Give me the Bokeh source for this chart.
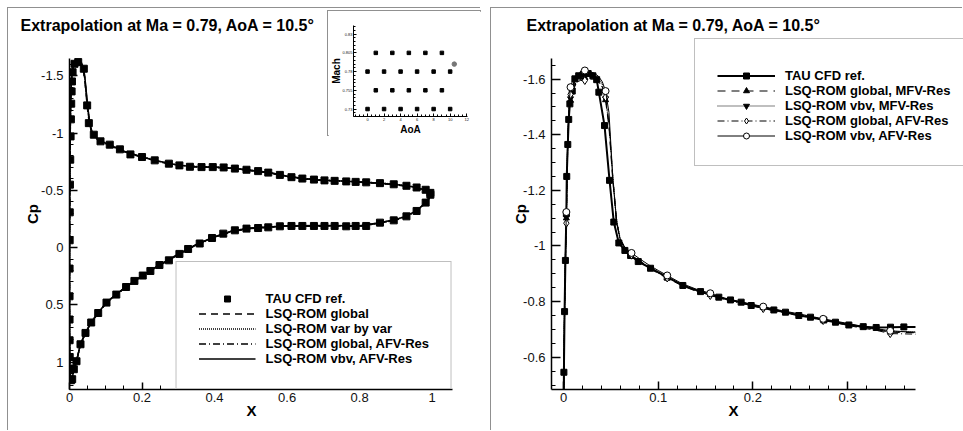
from bokeh.plotting import figure
from bokeh.models import (Range1d, SingleIntervalTicker, FixedTicker, CustomJSTickFormatter,
                          Legend, LegendItem, GridBox, Title)
from bokeh.embed import file_html
from bokeh.resources import INLINE

FONT = "Liberation Sans"
GRAY = "#808080"
TITLE = "Extrapolation at Ma = 0.79, AoA = 10.5°"

# ---------------- LEFT PANEL DATA (full airfoil) ----------------
left_ref_up_x = [0.0040, 0.0012, 0.0006, 0.0003, 0.0001, 0.0001, 0.0002, 0.0004, 0.0007, 0.0012,
                 0.0020, 0.0030, 0.0038, 0.0047, 0.0058, 0.0068, 0.0085, 0.0138, 0.0240, 0.0395,
                 0.0487, 0.0533, 0.0670, 0.0855, 0.111, 0.139, 0.168, 0.200, 0.235, 0.274,
                 0.303, 0.332, 0.364, 0.395, 0.425, 0.456, 0.488, 0.520, 0.548, 0.580,
                 0.612, 0.642, 0.674, 0.703, 0.731, 0.763, 0.789, 0.818, 0.856, 0.894,
                 0.929, 0.957, 0.982, 0.995]
left_ref_up_cp = [1.158, 1.056, 0.955, 0.809, 0.628, 0.425, 0.183, -0.064, -0.308, -0.550,
                  -0.768, -0.971, -1.120, -1.257, -1.364, -1.451, -1.532, -1.605, -1.620, -1.562,
                  -1.242, -1.087, -0.986, -0.928, -0.899, -0.858, -0.814, -0.791, -0.762, -0.733,
                  -0.718, -0.706, -0.703, -0.703, -0.700, -0.690, -0.680, -0.668, -0.655, -0.635,
                  -0.615, -0.603, -0.594, -0.587, -0.583, -0.578, -0.574, -0.570, -0.563, -0.553,
                  -0.540, -0.525, -0.505, -0.478]
left_ref_lo_x = [0.0074, 0.0119, 0.0193, 0.0303, 0.0441, 0.0598, 0.0791, 0.102, 0.129, 0.156,
                 0.179, 0.202, 0.223, 0.248, 0.274, 0.303, 0.327, 0.359, 0.393, 0.424,
                 0.456, 0.488, 0.520, 0.548, 0.580, 0.612, 0.642, 0.674, 0.703, 0.731,
                 0.763, 0.789, 0.818, 0.856, 0.894, 0.929, 0.957, 0.982, 0.995]
left_ref_lo_cp = [1.149, 1.062, 0.992, 0.844, 0.745, 0.654, 0.571, 0.480, 0.410, 0.344,
                  0.291, 0.244, 0.204, 0.152, 0.111, 0.055, 0.012, -0.036, -0.084, -0.122,
                  -0.151, -0.166, -0.171, -0.177, -0.186, -0.189, -0.189, -0.189, -0.189, -0.189,
                  -0.186, -0.189, -0.189, -0.218, -0.238, -0.273, -0.320, -0.393, -0.462]

# ROM line path: upper surface TE -> LE, then lower surface LE -> TE
left_path_x = [1.0, 0.98, 0.95, 0.9, 0.85, 0.8, 0.75, 0.7, 0.65, 0.6,
               0.55, 0.5, 0.45, 0.4, 0.35, 0.3, 0.25, 0.2, 0.15, 0.12,
               0.1, 0.085, 0.07, 0.062, 0.056, 0.051, 0.046, 0.042, 0.038, 0.033,
               0.027, 0.021, 0.015, 0.01, 0.007, 0.005, 0.0035, 0.002, 0.001, 0.0004,
               0.0001, 0.0, 0.0002, 0.001, 0.003, 0.005,
               0.0074, 0.0119, 0.0193, 0.0303, 0.0441, 0.0598, 0.0791, 0.102, 0.129, 0.156,
               0.202, 0.25, 0.3, 0.35, 0.4, 0.45, 0.5, 0.55, 0.6, 0.7,
               0.8, 0.85, 0.9, 0.93, 0.96, 0.98, 1.0]
left_rom_global = [-0.465, -0.502, -0.528, -0.551, -0.563, -0.572, -0.580, -0.588, -0.600, -0.622,
                   -0.655, -0.674, -0.692, -0.702, -0.706, -0.718, -0.750, -0.790, -0.840, -0.883,
                   -0.910, -0.930, -0.962, -1.000, -1.060, -1.170, -1.330, -1.470, -1.555, -1.600,
                   -1.615, -1.618, -1.605, -1.575, -1.520, -1.450, -1.300, -1.000, -0.700, -0.300,
                   0.100, 0.450, 0.800, 1.020, 1.130, 1.170,
                   1.149, 1.062, 0.992, 0.844, 0.745, 0.654, 0.571, 0.480, 0.410, 0.344,
                   0.244, 0.150, 0.060, -0.025, -0.092, -0.145, -0.168, -0.178, -0.188, -0.189,
                   -0.188, -0.212, -0.242, -0.274, -0.327, -0.385, -0.465]
left_rom_vbv = [-0.468, -0.504, -0.530, -0.553, -0.565, -0.574, -0.582, -0.590, -0.602, -0.625,
                -0.657, -0.676, -0.694, -0.704, -0.708, -0.720, -0.752, -0.792, -0.842, -0.885,
                -0.912, -0.933, -0.966, -1.010, -1.080, -1.200, -1.360, -1.490, -1.565, -1.605,
                -1.620, -1.622, -1.608, -1.578, -1.522, -1.452, -1.302, -1.002, -0.702, -0.302,
                0.098, 0.448, 0.798, 1.018, 1.128, 1.168,
                1.147, 1.060, 0.990, 0.842, 0.743, 0.652, 0.569, 0.478, 0.408, 0.342,
                0.242, 0.148, 0.058, -0.027, -0.094, -0.147, -0.170, -0.180, -0.190, -0.191,
                -0.190, -0.214, -0.244, -0.276, -0.329, -0.387, -0.468]
left_rom_global_afv = [-0.462, -0.500, -0.526, -0.549, -0.561, -0.570, -0.578, -0.586, -0.598, -0.620,
                       -0.653, -0.672, -0.690, -0.700, -0.704, -0.716, -0.748, -0.788, -0.838, -0.880,
                       -0.907, -0.927, -0.958, -0.995, -1.070, -1.190, -1.350, -1.480, -1.545, -1.590,
                       -1.600, -1.602, -1.595, -1.560, -1.505, -1.440, -1.290, -0.990, -0.690, -0.290,
                       0.110, 0.455, 0.805, 1.022, 1.132, 1.172,
                       1.151, 1.064, 0.994, 0.846, 0.747, 0.656, 0.573, 0.482, 0.412, 0.346,
                       0.246, 0.152, 0.062, -0.023, -0.090, -0.143, -0.166, -0.176, -0.186, -0.187,
                       -0.186, -0.210, -0.240, -0.272, -0.325, -0.383, -0.462]
left_rom_vbv_afv = [-0.466, -0.503, -0.529, -0.552, -0.564, -0.573, -0.581, -0.589, -0.601, -0.623,
                    -0.656, -0.675, -0.693, -0.703, -0.707, -0.719, -0.751, -0.791, -0.841, -0.884,
                    -0.911, -0.931, -0.968, -1.010, -1.090, -1.210, -1.370, -1.500, -1.575, -1.615,
                    -1.628, -1.630, -1.615, -1.585, -1.530, -1.455, -1.305, -1.005, -0.705, -0.305,
                    0.095, 0.445, 0.795, 1.016, 1.126, 1.166,
                    1.146, 1.059, 0.989, 0.841, 0.742, 0.651, 0.568, 0.477, 0.407, 0.341,
                    0.241, 0.147, 0.057, -0.028, -0.095, -0.148, -0.171, -0.181, -0.191, -0.192,
                    -0.191, -0.215, -0.245, -0.277, -0.330, -0.388, -0.466]

left_labels = ["TAU CFD ref.", "LSQ-ROM global", "LSQ-ROM var by var",
               "LSQ-ROM global, AFV-Res", "LSQ-ROM vbv, AFV-Res"]

# ---------------- INSET DATA (parameter space) ----------------
train_aoa = [1, 3, 5, 7, 9, 0, 2, 4, 6, 8, 10, 1, 3, 5, 7, 9, 0, 2, 4, 6, 8, 10]
train_mach = [0.805, 0.805, 0.805, 0.805, 0.805,
              0.78, 0.78, 0.78, 0.78, 0.78, 0.78,
              0.755, 0.755, 0.755, 0.755, 0.755,
              0.73, 0.73, 0.73, 0.73, 0.73, 0.73]
extrap_aoa = [10.5]
extrap_mach = [0.79]
inset_mach_ticks = [0.73, 0.755, 0.78, 0.805, 0.83]

# ---------------- RIGHT PANEL DATA (upper surface, leading edge) ----------------
right_ref_x = [0.0002, 0.0004, 0.0011, 0.0020, 0.0030, 0.0034, 0.0045, 0.0055, 0.0067, 0.0092,
               0.0120, 0.0160, 0.0210, 0.0260, 0.0310, 0.0350, 0.0373, 0.0433, 0.0486, 0.0531,
               0.0584, 0.0648, 0.0708, 0.0789, 0.0919, 0.1095, 0.1260, 0.1447, 0.1640, 0.1763,
               0.1876, 0.1982, 0.2221, 0.2344, 0.2485, 0.2608, 0.2749, 0.2872, 0.3013, 0.3165,
               0.3302, 0.3453, 0.3594, 0.3717]
right_ref_cp = [-0.400, -0.546, -0.764, -0.948, -1.116, -1.250, -1.365, -1.455, -1.511, -1.557,
                -1.601, -1.612, -1.618, -1.620, -1.612, -1.598, -1.553, -1.433, -1.236, -1.086,
                -1.011, -0.984, -0.966, -0.944, -0.920, -0.888, -0.858, -0.836, -0.816, -0.806,
                -0.798, -0.786, -0.770, -0.762, -0.750, -0.744, -0.734, -0.726, -0.716, -0.710,
                -0.707, -0.708, -0.709, -0.709]
right_rom_x = [0.0002, 0.0005, 0.0012, 0.0020, 0.0030, 0.0045, 0.0060, 0.0074, 0.0100, 0.0140,
               0.0180, 0.0225, 0.0270, 0.0320, 0.0370, 0.0410, 0.0444, 0.0480, 0.0520, 0.0560,
               0.0600, 0.0650, 0.0718, 0.0800, 0.0900, 0.1000, 0.1095, 0.1250, 0.1400, 0.1550,
               0.1700, 0.1850, 0.2000, 0.2109, 0.2300, 0.2500, 0.2742, 0.2900, 0.3100, 0.3300,
               0.3450, 0.3600, 0.3717]
right_rom_global_mfv = [-0.450, -0.610, -0.790, -0.950, -1.100, -1.390, -1.490, -1.523, -1.560, -1.590,
                        -1.600, -1.605, -1.610, -1.605, -1.595, -1.575, -1.525, -1.430, -1.240, -1.085,
                        -1.020, -0.990, -0.962, -0.945, -0.922, -0.902, -0.885, -0.858, -0.838, -0.825,
                        -0.810, -0.798, -0.788, -0.778, -0.765, -0.752, -0.735, -0.725, -0.712, -0.700,
                        -0.690, -0.689, -0.688]
right_rom_vbv_mfv = [-0.450, -0.615, -0.795, -0.955, -1.105, -1.390, -1.495, -1.530, -1.565, -1.595,
                     -1.605, -1.612, -1.614, -1.610, -1.600, -1.580, -1.530, -1.440, -1.245, -1.090,
                     -1.022, -0.992, -0.965, -0.947, -0.924, -0.904, -0.887, -0.860, -0.840, -0.826,
                     -0.811, -0.799, -0.789, -0.779, -0.766, -0.753, -0.736, -0.726, -0.713, -0.701,
                     -0.693, -0.692, -0.691]
right_rom_global_afv = [-0.440, -0.600, -0.780, -0.940, -1.082, -1.380, -1.500, -1.545, -1.575, -1.590,
                        -1.595, -1.595, -1.600, -1.600, -1.590, -1.570, -1.535, -1.440, -1.250, -1.090,
                        -1.025, -0.995, -0.968, -0.948, -0.925, -0.905, -0.885, -0.860, -0.840, -0.822,
                        -0.808, -0.795, -0.785, -0.775, -0.762, -0.750, -0.732, -0.722, -0.708, -0.697,
                        -0.685, -0.684, -0.683]
right_rom_vbv_afv = [-0.450, -0.620, -0.800, -0.970, -1.122, -1.400, -1.520, -1.571, -1.600, -1.615,
                     -1.625, -1.631, -1.628, -1.622, -1.610, -1.590, -1.557, -1.480, -1.250, -1.090,
                     -1.020, -0.995, -0.975, -0.955, -0.932, -0.912, -0.894, -0.865, -0.845, -0.830,
                     -0.812, -0.800, -0.790, -0.782, -0.768, -0.755, -0.738, -0.728, -0.715, -0.703,
                     -0.695, -0.692, -0.690]
right_marker_idx = [4, 7, 11, 16, 22, 26, 29, 33, 36, 40]
right_labels = ["TAU CFD ref.", "LSQ-ROM global, MFV-Res", "LSQ-ROM vbv, MFV-Res",
                "LSQ-ROM global, AFV-Res", "LSQ-ROM vbv, AFV-Res"]

FMT = CustomJSTickFormatter(code="return String(Number(tick.toFixed(3)));")


def make_fig(w, h, xr, yr, mb, styles, title=None, fw=None, fh=None):
    kw = dict(x_range=xr, y_range=yr, output_backend="svg",
              toolbar_location=None, min_border_left=mb[0], min_border_right=mb[1],
              min_border_top=mb[2], min_border_bottom=mb[3], background_fill_color="white",
              border_fill_color="white", outline_line_color=None, styles=styles)
    if fw is not None:
        kw.update(frame_width=fw, frame_height=fh)
    else:
        kw.update(width=w, height=h)
    p = figure(**kw)
    p.xgrid.visible = False
    p.ygrid.visible = False
    if title:
        p.title.text = title
        p.title.text_font = FONT
        p.title.text_font_size = "16px"
        p.title.text_font_style = "bold"
        p.title.text_color = "black"
        p.title.align = "left"
    return p


def style_axis(ax, label, ticker, lab_size="15px", tick_size="13px", maj=8, mnr=4,
               lab_standoff=0, tick_standoff=4, lw=1.5, bounds=None):
    ax.axis_label = label
    ax.axis_label_text_font = FONT
    ax.axis_label_text_font_style = "bold"
    ax.axis_label_text_font_size = lab_size
    ax.axis_label_text_color = "black"
    ax.axis_label_standoff = lab_standoff
    ax.major_label_text_font = FONT
    ax.major_label_text_font_size = tick_size
    ax.major_label_text_color = "#111111"
    ax.major_label_standoff = tick_standoff
    ax.axis_line_width = lw
    ax.axis_line_color = "black"
    ax.major_tick_in = maj
    ax.major_tick_out = 0
    ax.minor_tick_in = mnr
    ax.minor_tick_out = 0
    ax.major_tick_line_width = lw
    ax.minor_tick_line_width = 1
    ax.major_tick_line_color = "black"
    ax.minor_tick_line_color = "black"
    ax.ticker = ticker
    ax.formatter = FMT
    if bounds is not None:
        ax.bounds = bounds


def add_xlabel(p, text, offset):
    p.add_layout(Title(text=text, align="left", offset=offset, text_font=FONT,
                       text_font_size="15px", text_font_style="bold", text_color="black",
                       vertical_align="top", standoff=-6), "below")


def make_legend(items, location, pad=22):
    return Legend(items=items, location=location, margin=0, padding=pad, spacing=0,
                  glyph_width=57, glyph_height=15, label_height=15, label_standoff=10,
                  title=" ", title_text_font_size="4px", title_standoff=2,
                  border_line_color=GRAY, border_line_width=1, background_fill_color="white",
                  background_fill_alpha=1, label_text_font=FONT, label_text_font_style="bold",
                  label_text_font_size="13px", label_text_color="black")


# ---------------- LEFT FIGURE ----------------
pl = make_fig(473, 423, Range1d(0, 1.056), Range1d(1.239, -1.826), (61, 29, 30, 42),
              {"border-left": "1px solid #909090", "border-top": "1px solid #909090"}, TITLE)
pl.title.offset = -49
pl.title.standoff = 10
style_axis(pl.xaxis[0], None, SingleIntervalTicker(interval=0.2, num_minor_ticks=4),
           maj=7, tick_standoff=3)
add_xlabel(pl, "X", 177)
style_axis(pl.yaxis[0], "Cp", SingleIntervalTicker(interval=0.5, num_minor_ticks=5),
           maj=8, tick_standoff=6, lab_standoff=-3, bounds=(-1.652, 1.239))

r_g = pl.line(left_path_x, left_rom_global, line_color="black", line_width=1.5, line_dash="7 5")
r_v = pl.line(left_path_x, left_rom_vbv, line_color="black", line_width=1.5, line_dash="1 1")
r_ga = pl.line(left_path_x, left_rom_global_afv, line_color="black", line_width=1.5,
               line_dash="7 3 1 3")
r_va = pl.line(left_path_x, left_rom_vbv_afv, line_color="black", line_width=1.5)
r_ref = pl.scatter(left_ref_up_x, left_ref_up_cp, marker="square", size=7, color="black")
pl.scatter(left_ref_lo_x, left_ref_lo_cp, marker="square", size=7, color="black")

leg_l = make_legend([LegendItem(label=left_labels[0], renderers=[r_ref]),
                     LegendItem(label=left_labels[1], renderers=[r_g]),
                     LegendItem(label=left_labels[2], renderers=[r_v]),
                     LegendItem(label=left_labels[3], renderers=[r_ga]),
                     LegendItem(label=left_labels[4], renderers=[r_va])], "bottom_right")
pl.add_layout(leg_l)

# ---------------- INSET FIGURE ----------------
pi = make_fig(None, None, Range1d(-1.7, 12.1), Range1d(0.72, 0.8416), (22, 15, 14, 13),
              {"border": "1px solid #909090"}, fw=115, fh=97)
style_axis(pi.xaxis[0], "AoA", SingleIntervalTicker(interval=2, num_minor_ticks=4),
           lab_size="10px", tick_size="4px", maj=3, mnr=2, lab_standoff=0, tick_standoff=1, lw=1)
mach_minor = [0.72 + 0.005 * i for i in range(25)]
style_axis(pi.yaxis[0], "Mach", FixedTicker(ticks=inset_mach_ticks, minor_ticks=mach_minor),
           lab_size="10px", tick_size="4px", maj=3, mnr=2, lab_standoff=-3, tick_standoff=1, lw=1)
pi.scatter(train_aoa, train_mach, marker="square", size=3.5, color="black")
pi.scatter(extrap_aoa, extrap_mach, marker="circle", size=4.5, color="#777777")

# ---------------- RIGHT FIGURE ----------------
pr = make_fig(472, 423, Range1d(-0.0127, 0.4224), Range1d(-0.484, -1.746), (60, 0, 30, 42),
              {"border-left": "1px solid #909090", "border-top": "1px solid #909090"}, TITLE)
pr.title.offset = -25
pr.title.standoff = 10
style_axis(pr.xaxis[0], None, SingleIntervalTicker(interval=0.1, num_minor_ticks=5),
           maj=8, tick_standoff=3, bounds=(-0.0127, 0.3717))
add_xlabel(pr, "X", 177)
style_axis(pr.yaxis[0], "Cp", SingleIntervalTicker(interval=0.2, num_minor_ticks=4),
           maj=9, tick_standoff=6, lab_standoff=-9, bounds=(-1.673, -0.484))

mx = [right_rom_x[i] for i in right_marker_idx]


def mk(arr):
    return [arr[i] for i in right_marker_idx]


l0 = pr.line(right_ref_x, right_ref_cp, line_color="black", line_width=2)
m0 = pr.scatter(right_ref_x[:-1], right_ref_cp[:-1], marker="square", size=6, color="black")
l1 = pr.line(right_rom_x, right_rom_global_mfv, line_color="black", line_width=1.2, line_dash="8 6")
m1 = pr.scatter(mx, mk(right_rom_global_mfv), marker="triangle", size=6, color="black")
l2 = pr.line(right_rom_x, right_rom_vbv_mfv, line_color="black", line_width=1.2, line_dash="1 1")
m2 = pr.scatter(mx, mk(right_rom_vbv_mfv), marker="inverted_triangle", size=6, color="black")
l3 = pr.line(right_rom_x, right_rom_global_afv, line_color="black", line_width=1,
             line_dash="7 3 1 3")
m3 = pr.scatter(mx, mk(right_rom_global_afv), marker="diamond", size=8, fill_color="white",
                line_color="black", line_width=1)
l4 = pr.line(right_rom_x, right_rom_vbv_afv, line_color="black", line_width=1)
m4 = pr.scatter(mx, mk(right_rom_vbv_afv), marker="circle", size=7, fill_color="white",
                line_color="black", line_width=1)

leg_r = make_legend([LegendItem(label=right_labels[0], renderers=[l0, m0]),
                     LegendItem(label=right_labels[1], renderers=[l1, m1]),
                     LegendItem(label=right_labels[2], renderers=[l2, m2]),
                     LegendItem(label=right_labels[3], renderers=[l3, m3]),
                     LegendItem(label=right_labels[4], renderers=[l4, m4])], (143, 223))
leg_r.glyph_width = 58
pr.add_layout(leg_r)

layout = GridBox(children=[(pl, 1, 1, 3, 2), (pi, 2, 2, 1, 1), (pr, 1, 4, 3, 1)],
                 rows=["7px", "3px", "126px", "295px"],
                 cols=["7px", "320px", "154px", "9px", "473px"], spacing=0)

open("out.html", "w").write(file_html(layout, INLINE))
